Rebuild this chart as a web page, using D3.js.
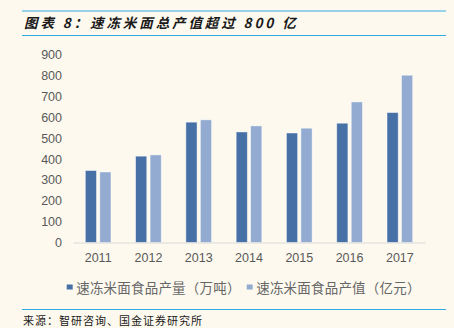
<!DOCTYPE html>
<html>
<head>
<meta charset="utf-8">
<script src="https://cdn.jsdelivr.net/npm/d3@7"></script>
<style>
  html, body { margin: 0; padding: 0; background: #fdf9ef; }
  svg { display: block; }
</style>
</head>
<body>
<svg id="chart" width="454" height="328"></svg>
<script>
// Frozen rice & noodle food: output volume (10k tonnes) and output value (100M yuan)
const years = ["2011", "2012", "2013", "2014", "2015", "2016", "2017"];
const volume = [345, 414, 577, 530, 525, 572, 623];
const value = [338, 420, 588, 559, 548, 674, 802];
const seriesNames = ["速冻米面食品产量（万吨）", "速冻米面食品产值（亿元）"];
const seriesColors = ["#4670a6", "#93abd0"];
const yTicks = [0, 100, 200, 300, 400, 500, 600, 700, 800, 900];

const svg = d3.select("#chart");
const W = 454, H = 328;
const cjk = "'Noto Sans CJK SC', 'Noto Sans', sans-serif";
const latin = "'Liberation Sans', Arial, sans-serif";

svg.append("rect").attr("width", W).attr("height", H).attr("fill", "#fdf9ef");

// Header rules and title
const ruleColor = "#35a9e1";
svg.append("line").attr("x1", 22).attr("x2", 446).attr("y1", 11).attr("y2", 11)
  .attr("stroke", ruleColor).attr("stroke-width", 1.2);
svg.append("line").attr("x1", 22).attr("x2", 446).attr("y1", 35.5).attr("y2", 35.5)
  .attr("stroke", ruleColor).attr("stroke-width", 1.2);
svg.append("text")
  .attr("x", 24).attr("y", 28)
  .attr("font-family", cjk).attr("font-size", 13.5).attr("font-weight", "bold")
  .attr("font-style", "italic").attr("letter-spacing", 2.9)
  .attr("fill", "#1a1a1a")
  .text("图表 8：速冻米面总产值超过 800 亿");

// Scales
const x = d3.scaleBand().domain(years).range([73, 425]);
const xSub = d3.scaleBand().domain([0, 1])
  .range([x.bandwidth() * 0.245, x.bandwidth() * 0.755]).paddingInner(0.23);
const y = d3.scaleLinear().domain([0, 900]).range([242.5, 54.8]);

// Y axis (labels only)
const yAxis = d3.axisLeft(y).tickValues(yTicks).tickSize(0).tickPadding(0);
const gy = svg.append("g").attr("transform", "translate(62,0)").call(yAxis);
gy.select(".domain").remove();
gy.selectAll("text").attr("font-family", latin).attr("font-size", 12.5)
  .attr("fill", "#595959");

// Bars
const data = years.map((yr, i) => ({ year: yr, vals: [volume[i], value[i]] }));
const groups = svg.append("g").selectAll("g").data(data).join("g")
  .attr("transform", d => `translate(${x(d.year)},0)`);
groups.selectAll("rect").data(d => d.vals.map((v, k) => ({ v, k }))).join("rect")
  .attr("x", d => xSub(d.k))
  .attr("width", xSub.bandwidth())
  .attr("y", d => y(d.v))
  .attr("height", d => y(0) - y(d.v))
  .attr("fill", d => seriesColors[d.k])
  .attr("stroke", "#ffffff").attr("stroke-opacity", 0.55).attr("stroke-width", 0.8);

// X axis
const xAxis = d3.axisBottom(x).tickSize(0).tickPadding(11);
const gx = svg.append("g").attr("transform", `translate(0,${y(0)})`).call(xAxis);
gx.select(".domain").attr("stroke", "#d9d9d9").attr("stroke-width", 1.2);
gx.selectAll("text").attr("font-family", latin).attr("font-size", 12.5)
  .attr("fill", "#595959");

// Legend
const legendX = [66.7, 246.7];
const legend = svg.append("g").selectAll("g").data(seriesNames).join("g")
  .attr("transform", (d, i) => `translate(${legendX[i]},0)`);
legend.append("rect").attr("x", 0).attr("y", 284.5).attr("width", 6).attr("height", 5)
  .attr("fill", (d, i) => seriesColors[i]);
legend.append("text").attr("x", 9.5).attr("y", 293)
  .attr("font-family", cjk).attr("font-size", 13.5).attr("fill", "#666666")
  .attr("letter-spacing", 0.2)
  .text(d => d);

// Footer rule and source
svg.append("line").attr("x1", 22).attr("x2", 446).attr("y1", 309.5).attr("y2", 309.5)
  .attr("stroke", ruleColor).attr("stroke-width", 1.2);
svg.append("text").attr("x", 23).attr("y", 325)
  .attr("font-family", cjk).attr("font-size", 11).attr("letter-spacing", 1)
  .attr("fill", "#1a1a1a")
  .text("来源：智研咨询、国金证券研究所");
</script>
</body>
</html>
